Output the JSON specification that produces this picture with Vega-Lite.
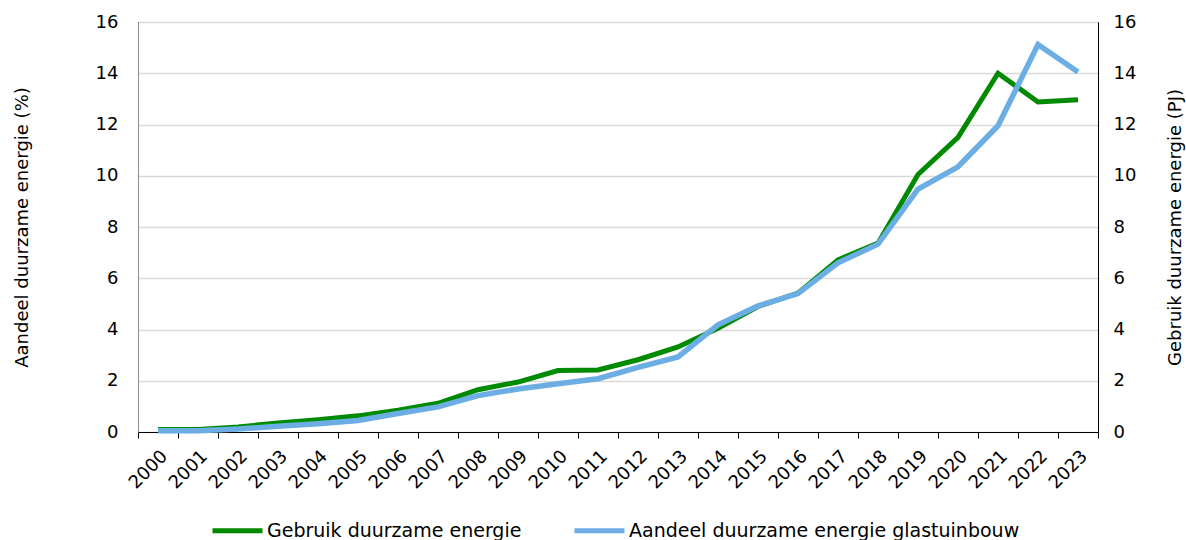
{
  "$schema": "https://vega.github.io/schema/vega-lite/v6.json",
  "width": 960,
  "height": 410,
  "autosize": {"type": "none"},
  "padding": {"left": 138, "top": 22, "right": 88, "bottom": 108},
  "background": "white",
  "config": {
    "font": "DejaVu Sans",
    "view": {"stroke": "black", "strokeWidth": 1},
    "axis": {"labelFont": "DejaVu Sans", "titleFont": "DejaVu Sans", "labelFontSize": 18, "titleFontSize": 18, "labelColor": "#000000", "titleColor": "#000000", "titleFontWeight": "normal"},
    "legend": {"labelFont": "DejaVu Sans", "labelFontSize": 19, "labelColor": "#000000"}
  },
  "data": {
    "values": [
      {"year": "2000", "series": "Gebruik duurzame energie", "value": 0.1},
      {"year": "2001", "series": "Gebruik duurzame energie", "value": 0.1},
      {"year": "2002", "series": "Gebruik duurzame energie", "value": 0.2},
      {"year": "2003", "series": "Gebruik duurzame energie", "value": 0.35},
      {"year": "2004", "series": "Gebruik duurzame energie", "value": 0.48},
      {"year": "2005", "series": "Gebruik duurzame energie", "value": 0.63},
      {"year": "2006", "series": "Gebruik duurzame energie", "value": 0.85},
      {"year": "2007", "series": "Gebruik duurzame energie", "value": 1.12},
      {"year": "2008", "series": "Gebruik duurzame energie", "value": 1.65},
      {"year": "2009", "series": "Gebruik duurzame energie", "value": 1.95},
      {"year": "2010", "series": "Gebruik duurzame energie", "value": 2.4},
      {"year": "2011", "series": "Gebruik duurzame energie", "value": 2.42},
      {"year": "2012", "series": "Gebruik duurzame energie", "value": 2.82},
      {"year": "2013", "series": "Gebruik duurzame energie", "value": 3.32},
      {"year": "2014", "series": "Gebruik duurzame energie", "value": 4.05},
      {"year": "2015", "series": "Gebruik duurzame energie", "value": 4.9},
      {"year": "2016", "series": "Gebruik duurzame energie", "value": 5.42},
      {"year": "2017", "series": "Gebruik duurzame energie", "value": 6.72},
      {"year": "2018", "series": "Gebruik duurzame energie", "value": 7.37},
      {"year": "2019", "series": "Gebruik duurzame energie", "value": 10.05},
      {"year": "2020", "series": "Gebruik duurzame energie", "value": 11.5},
      {"year": "2021", "series": "Gebruik duurzame energie", "value": 14.0},
      {"year": "2022", "series": "Gebruik duurzame energie", "value": 12.88},
      {"year": "2023", "series": "Gebruik duurzame energie", "value": 12.97},
      {"year": "2000", "series": "Aandeel duurzame energie glastuinbouw", "value": 0.05},
      {"year": "2001", "series": "Aandeel duurzame energie glastuinbouw", "value": 0.05},
      {"year": "2002", "series": "Aandeel duurzame energie glastuinbouw", "value": 0.12},
      {"year": "2003", "series": "Aandeel duurzame energie glastuinbouw", "value": 0.22},
      {"year": "2004", "series": "Aandeel duurzame energie glastuinbouw", "value": 0.32},
      {"year": "2005", "series": "Aandeel duurzame energie glastuinbouw", "value": 0.45},
      {"year": "2006", "series": "Aandeel duurzame energie glastuinbouw", "value": 0.72},
      {"year": "2007", "series": "Aandeel duurzame energie glastuinbouw", "value": 0.98},
      {"year": "2008", "series": "Aandeel duurzame energie glastuinbouw", "value": 1.42},
      {"year": "2009", "series": "Aandeel duurzame energie glastuinbouw", "value": 1.68},
      {"year": "2010", "series": "Aandeel duurzame energie glastuinbouw", "value": 1.88},
      {"year": "2011", "series": "Aandeel duurzame energie glastuinbouw", "value": 2.08},
      {"year": "2012", "series": "Aandeel duurzame energie glastuinbouw", "value": 2.52},
      {"year": "2013", "series": "Aandeel duurzame energie glastuinbouw", "value": 2.93},
      {"year": "2014", "series": "Aandeel duurzame energie glastuinbouw", "value": 4.18},
      {"year": "2015", "series": "Aandeel duurzame energie glastuinbouw", "value": 4.92},
      {"year": "2016", "series": "Aandeel duurzame energie glastuinbouw", "value": 5.4},
      {"year": "2017", "series": "Aandeel duurzame energie glastuinbouw", "value": 6.6},
      {"year": "2018", "series": "Aandeel duurzame energie glastuinbouw", "value": 7.33},
      {"year": "2019", "series": "Aandeel duurzame energie glastuinbouw", "value": 9.48},
      {"year": "2020", "series": "Aandeel duurzame energie glastuinbouw", "value": 10.35},
      {"year": "2021", "series": "Aandeel duurzame energie glastuinbouw", "value": 11.95},
      {"year": "2022", "series": "Aandeel duurzame energie glastuinbouw", "value": 15.12},
      {"year": "2023", "series": "Aandeel duurzame energie glastuinbouw", "value": 14.05}
    ]
  },
  "encoding": {
    "x": {
      "field": "year", "type": "ordinal",
      "scale": {"type": "band", "paddingInner": 0, "paddingOuter": 0},
      "axis": {"title": null, "labelAngle": -45, "labelAlign": "right", "labelBaseline": "top", "labelPadding": 9, "tickBand": "extent", "ticks": true, "tickSize": 6, "tickColor": "#000000", "domainColor": "#000000", "grid": false}
    },
    "color": {
      "field": "series", "type": "nominal",
      "scale": {"domain": ["Gebruik duurzame energie", "Aandeel duurzame energie glastuinbouw"], "range": ["#008a00", "#6caee4"]},
      "legend": {"title": null, "orient": "none", "legendX": 72, "legendY": 481, "direction": "horizontal", "symbolType": "stroke", "symbolSize": 2500, "symbolStrokeWidth": 5, "labelOffset": 2, "labelLimit": 0, "columnPadding": 42}
    }
  },
  "layer": [
    {
      "transform": [{"filter": "datum.series === 'Gebruik duurzame energie'"}],
      "mark": {"type": "line", "strokeWidth": 5},
      "encoding": {
        "y": {
          "field": "value", "type": "quantitative",
          "scale": {"domain": [0, 16]},
          "axis": {"orient": "right", "title": "Gebruik duurzame energie (PJ)", "titleAngle": -90, "titleBaseline": "top", "titlePadding": 31, "values": [0, 2, 4, 6, 8, 10, 12, 14, 16], "ticks": false, "labelPadding": 15, "domainColor": "#000000", "grid": false}
        }
      }
    },
    {
      "transform": [{"filter": "datum.series === 'Aandeel duurzame energie glastuinbouw'"}],
      "mark": {"type": "line", "strokeWidth": 5.5},
      "encoding": {
        "y": {
          "field": "value", "type": "quantitative",
          "scale": {"domain": [0, 16]},
          "axis": {"orient": "left", "title": "Aandeel duurzame energie (%)", "titlePadding": 64, "values": [0, 2, 4, 6, 8, 10, 12, 14, 16], "ticks": false, "labelPadding": 20, "domainColor": "#8c8c8c", "grid": true, "gridColor": "#d9d9d9", "gridWidth": 1.5}
        }
      }
    }
  ],
  "resolve": {"scale": {"y": "independent"}}
}
